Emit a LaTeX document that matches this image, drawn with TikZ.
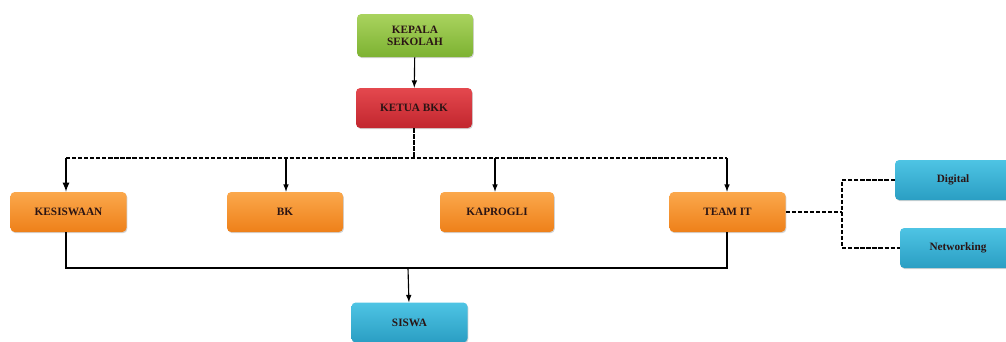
\documentclass[tikz,border=0pt]{standalone}
\usepackage{fontspec}
\setmainfont{Liberation Serif}
\usetikzlibrary{shadows}
\definecolor{greentop}{HTML}{A9D35E}
\definecolor{greenbot}{HTML}{7DB232}
\definecolor{redtop}{HTML}{E4484E}
\definecolor{redbot}{HTML}{C2262E}
\definecolor{orangetop}{HTML}{FBA84C}
\definecolor{orangebot}{HTML}{EE8019}
\definecolor{bluetop}{HTML}{4EC4E4}
\definecolor{bluebot}{HTML}{2A9EC3}
\definecolor{labeltext}{HTML}{2A1414}
\tikzstyle{unitbox} = [rounded corners=3pt, minimum width=29mm, minimum height=10mm, inner sep=0, align=center, text=labeltext, font=\fontsize{8}{8.6}\selectfont\bfseries, drop shadow={opacity=0.35, shadow xshift=0.6pt, shadow yshift=-0.8pt}]
\tikzstyle{greenbox} = [unitbox, top color=greentop, bottom color=greenbot]
\tikzstyle{redbox} = [unitbox, top color=redtop, bottom color=redbot]
\tikzstyle{orangebox} = [unitbox, top color=orangetop, bottom color=orangebot]
\tikzstyle{bluebox} = [unitbox, top color=bluetop, bottom color=bluebot]
\tikzstyle{dashline} = [thick, dash pattern=on 3pt off 1.3pt]

\begin{document}
\begin{tikzpicture}[x=0.25mm, y=-0.25mm, >=latex]
      \useasboundingbox (0, 0) rectangle (1006, 341);
      \clip (0, 0) rectangle (1006, 341);
      \node[greenbox, minimum height=10.75mm] (kepala) at (415, 35.5) {KEPALA\\SEKOLAH};
      \node[redbox] (ketua) at (414, 108) {KETUA BKK};
      \node[orangebox] (kesiswaan) at (68.5, 212) {KESISWAAN};
      \node[orangebox] (bk) at (285, 212) {BK};
      \node[orangebox, minimum width=28.5mm] (kaprogli) at (497, 212) {KAPROGLI};
      \node[orangebox] (teamit) at (727.5, 212) {TEAM IT};
      \node[bluebox] (siswa) at (409.5, 322.5) {SISWA};
      \node[bluebox] (digital) at (953, 180) {Digital};
      \node[bluebox] (networking) at (958, 248) {Networking};

      \coordinate (split) at (414, 158);
      \coordinate (join) at (408, 268);
      \coordinate (itsplit) at (842, 212);

      \draw[->, thick] (kepala) -- (ketua);

      \draw[dashline] (ketua.south) -- (split);
      \draw[dashline] (66, 158) -- (727, 158);
      \draw[->, very thick] (66, 158) -- (kesiswaan.north -| 66, 0);
      \draw[->, thick] (286, 158) -- (bk.north -| 286, 0);
      \draw[->, thick] (495, 158) -- (kaprogli.north -| 495, 0);
      \draw[->, thick] (727, 158) -- (teamit.north -| 727, 0);

      \draw[thick] (kesiswaan.south -| 66, 0) -- (66, 268) -- (727, 268) -- (teamit.south -| 727, 0);
      \draw[->, thick] (join) -- (siswa);

      \draw[dashline] (teamit.east) -- (itsplit);
      \draw[dashline] (digital.west) -- (digital.west -| itsplit) -- (networking.west -| itsplit) -- (networking.west);
    \end{tikzpicture}
\end{document}
